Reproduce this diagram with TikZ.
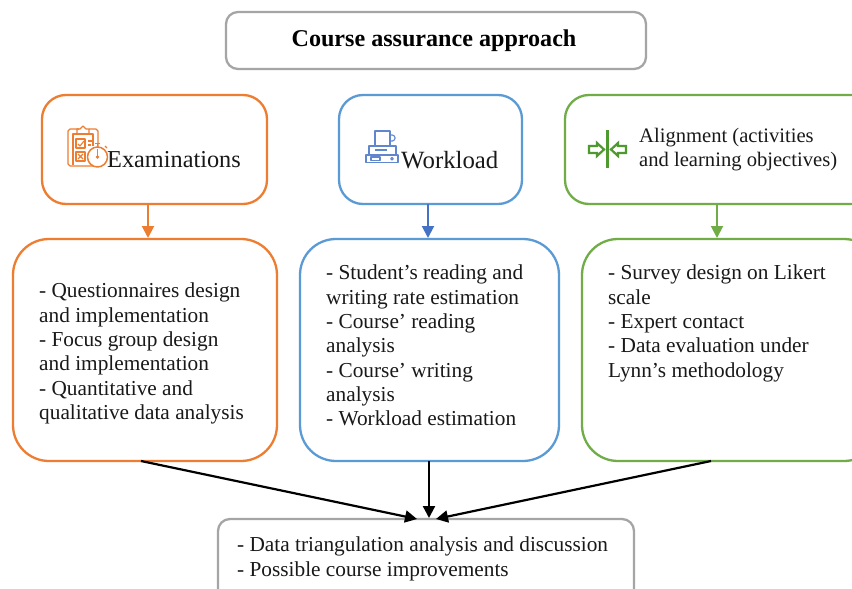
\documentclass[tikz,border=0pt]{standalone}
\usepackage{fontspec}
\setmainfont{Liberation Serif}
\usetikzlibrary{arrows.meta}
\definecolor{cor}{HTML}{ED7D31}
\definecolor{cbl}{HTML}{5B9BD5}
\definecolor{cdb}{HTML}{4472C4}
\definecolor{cgr}{HTML}{70AD47}
\definecolor{cdg}{HTML}{4E9A2E}
\definecolor{cgy}{HTML}{A5A5A5}
\tikzset{
  box/.style={draw=#1,line width=2.3pt,fill=white,inner sep=0pt},
  lbl/.style={anchor=north west,align=left,inner sep=0pt,text=black!90,font=\fontsize{21.3}{24.3}\selectfont},
  head/.style={anchor=west,inner sep=0pt,text=black!90,font=\fontsize{24.3}{27}\selectfont},
  flow/.style={line width=2pt,-{Triangle[length=12pt,width=12pt]}},
  merge/.style={line width=2.2pt,black,-{Triangle[length=12pt,width=12pt]}},
  icon/.style={line width=1.1pt,line join=round}
}
\newcommand{\bx}[8]{% name, colour, x1, y1, x2, y2, radius
  \node[box=#2,rounded corners=#7pt,minimum width=#5pt-#3pt,minimum height=#6pt-#4pt] (#1) at ({(#3+#5)/2},{(#4+#6)/2}) {};}
\begin{document}
\begin{tikzpicture}[x=1pt,y=-1pt]
\useasboundingbox (0,0) rectangle (852,589);
\clip (0,0) rectangle (852,589);
\fill[white] (0,0) rectangle (852,589);
% boxes
\bx{title}{cgy}{226}{12}{646}{69}{12}{}
\bx{exam}{cor}{42}{95}{267}{204}{24}{}
\bx{work}{cbl}{339}{95}{522}{204}{24}{}
\bx{align}{cgr}{565}{95}{880}{204}{24}{}
\bx{examd}{cor}{13}{239}{277}{461}{36}{}
\bx{workd}{cbl}{300}{239}{559}{461}{36}{}
\bx{alignd}{cgr}{582}{239}{880}{461}{36}{}
\bx{final}{cgy}{218}{519}{634}{610}{12}{}
% labels
\node[anchor=center,inner sep=0pt,font=\bfseries\fontsize{24.1}{27}\selectfont] (ttitle) at (434,41) {Course assurance approach};
\node[head] (texam) at (107,160) {Examinations};
\node[head,font=\fontsize{24.8}{27}\selectfont] (twork) at (401,160) {Workload};
\node[lbl,font=\fontsize{20.6}{24.5}\selectfont] (talign) at (639,128) {Alignment (activities\\and learning objectives)};
\node[lbl] (texamd) at (39,283) {- Questionnaires design\\and implementation\\- Focus group design\\and implementation\\- Quantitative and\\qualitative data analysis};
\node[lbl] (tworkd) at (326,265) {- Student’s reading and\\writing rate estimation\\- Course’ reading\\analysis\\- Course’ writing\\analysis\\- Workload estimation};
\node[lbl] (talignd) at (608,265) {- Survey design on Likert\\scale\\- Expert contact\\- Data evaluation under\\Lynn’s methodology};
\node[lbl] (tfinal) at (237,537) {- Data triangulation analysis and discussion\\- Possible course improvements};
% connectors
\coordinate (a1) at (148,204); \coordinate (a2) at (148,238);
\coordinate (b1) at (428,204); \coordinate (b2) at (428,238);
\coordinate (c1) at (717,204); \coordinate (c2) at (717,238);
\coordinate (m1) at (141,461); \coordinate (e1) at (417,519);
\coordinate (m2) at (429,461); \coordinate (e2) at (429,518);
\coordinate (m3) at (711,461); \coordinate (e3) at (436,519);
\draw[flow,cor] (a1) -- (a2);
\draw[flow,cdb] (b1) -- (b2);
\draw[flow,cgr] (c1) -- (c2);
\draw[merge] (m1) -- (e1);
\draw[merge] (m2) -- (e2);
\draw[merge] (m3) -- (e3);
% examinations icon
\begin{scope}[icon,draw=cor]
  \draw (95,166) -- (70,166) -- (68,164) -- (68,131) -- (70,129) -- (79,129);
  \draw (89,129) -- (96,129) -- (98,131) -- (98,147);
  \draw (73,165) -- (73,134) -- (93,134) -- (93,146);
  \draw (77,134) -- (77,129) -- (80,129) -- (83,126) -- (86,129) -- (89,129) -- (89,134) -- cycle;
  \draw (76,139) rectangle (85,148);
  \draw (76,152) rectangle (85,161);
  \draw (78,144) -- (80,146) -- (84,141);
  \draw (78,154) -- (83,159) (83,154) -- (78,159);
  \draw (88,141) -- (92,141) (88,145) -- (91,145);
  \draw[line width=1.5pt,fill=white] (97.5,157) circle (10);
  \draw (95,143.5) -- (100,143.5) (97.5,143.5) -- (97.5,147);
  \draw (97.5,149) -- (97.5,157);
  \fill[cor] (97.5,157) circle (1.8);
  \draw (105,146) -- (107,148);
\end{scope}
% workload icon
\begin{scope}[icon,draw=cdb!85]
  \draw (375,146) -- (375,131) -- (390,131) -- (390,146);
  \draw (390,135) .. controls (397,134) and (397,142) .. (390,141);
  \draw (369,155) -- (369,146) -- (396,146) -- (396,155);
  \draw (375,150) -- (387,150);
  \draw (366,155) rectangle (398,162.5);
  \draw (371,157) rectangle (380,160.5);
  \draw (392,158.7) circle (1.3);
\end{scope}
% alignment icon
\begin{scope}[cdg]
  \draw[line width=3pt] (607.5,130) -- (607.5,168);
  \draw[line width=2.2pt,line join=miter] (589,146) -- (597,146) -- (597,143) -- (604,149.5) -- (597,156) -- (597,153) -- (589,153) -- cycle;
  \draw[line width=2.2pt,line join=miter] (626,146) -- (618,146) -- (618,143) -- (611,149.5) -- (618,156) -- (618,153) -- (626,153) -- cycle;
\end{scope}
\end{tikzpicture}
\end{document}
